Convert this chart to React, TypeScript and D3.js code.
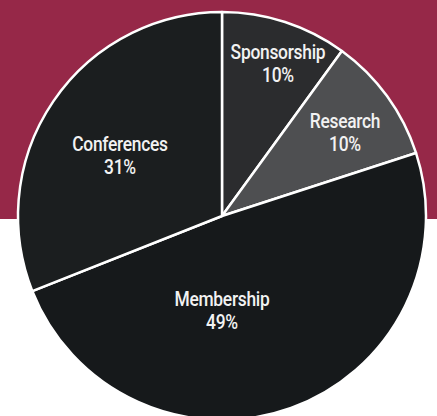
import React, { useRef, useEffect } from "react";
import * as d3 from "d3";

const width = 437;
const height = 416;

const categories = ["Sponsorship", "Research", "Membership", "Conferences"];
const values = [10, 10, 49, 31];
const colors = ["#2b2c2e", "#4e4f51", "#16191b", "#1b1e1f"];

// hand-placed label centres, relative to the pie centre
const labelPos: Record<string, [number, number]> = {
  Sponsorship: [56, -147],
  Research: [123, -78],
  Membership: [0, 100],
  Conferences: [-102, -55],
};

export default function App() {
  const ref = useRef<SVGSVGElement | null>(null);

  useEffect(() => {
    document.body.style.margin = "0";
    const svg = d3.select(ref.current);
    svg.selectAll("*").remove();

    const cx = 222;
    const cy = 216;
    const r = 204;

    svg.append("rect").attr("width", width).attr("height", 219).attr("fill", "#962848");
    svg.append("rect").attr("y", 219).attr("width", width).attr("height", height - 219).attr("fill", "#ffffff");

    const data = categories.map((c, i) => ({ category: c, value: values[i], color: colors[i] }));

    const pie = d3.pie<any>().sort(null).value((d) => d.value);
    const arc = d3.arc<any>().innerRadius(0).outerRadius(r);

    const g = svg.append("g").attr("transform", `translate(${cx},${cy})`);
    const arcs = pie(data);

    g.selectAll("path")
      .data(arcs)
      .enter()
      .append("path")
      .attr("d", arc)
      .attr("fill", (d) => d.data.color)
      .attr("stroke", "#ffffff")
      .attr("stroke-width", 2.5)
      .attr("stroke-linejoin", "round");

    // condensed look: squeeze the text horizontally
    const labels = g
      .selectAll("text.lbl")
      .data(arcs)
      .enter()
      .append("text")
      .attr("class", "lbl")
      .attr("text-anchor", "middle")
      .attr("font-family", "Roboto, 'Liberation Sans', sans-serif")
      .attr("font-size", 20)
      .attr("font-weight", 500)
      .attr("letter-spacing", -0.3)
      .attr("fill", "#f2f2f2")
      .attr("transform", (d) => `translate(${labelPos[d.data.category].join(",")}) scale(0.87,1)`);

    labels
      .append("tspan")
      .attr("x", 0)
      .attr("y", -10)
      .text((d) => d.data.category);
    labels
      .append("tspan")
      .attr("x", 0)
      .attr("y", 13)
      .text((d) => `${d.data.value}%`);
  }, []);

  return <svg ref={ref} width={width} height={height} style={{ display: "block" }} />;
}
